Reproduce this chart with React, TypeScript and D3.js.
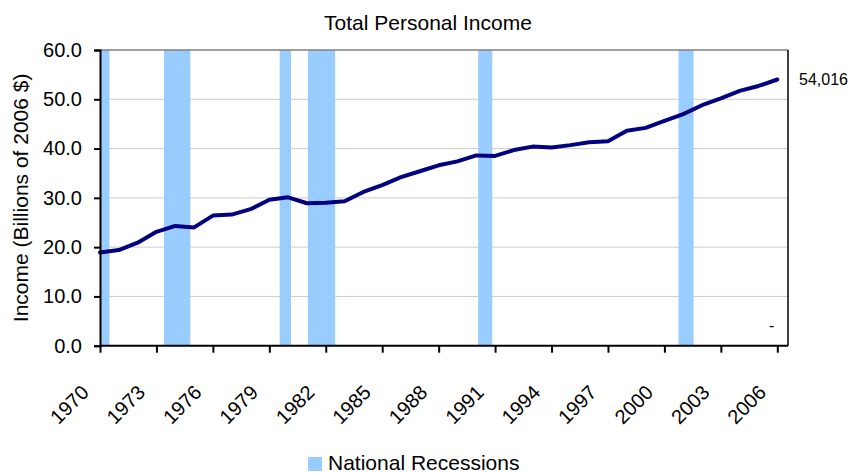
import React, { useEffect, useRef } from 'react';
import * as d3 from 'd3';

// total personal income, billions of 2006 $
const years = [
  1970, 1971, 1972, 1973, 1974, 1975, 1976, 1977, 1978, 1979,
  1980, 1981, 1982, 1983, 1984, 1985, 1986, 1987, 1988, 1989,
  1990, 1991, 1992, 1993, 1994, 1995, 1996, 1997, 1998, 1999,
  2000, 2001, 2002, 2003, 2004, 2005, 2006,
];
const income = [
  18.9, 19.4, 20.9, 23.1, 24.3, 24.0, 26.4, 26.6, 27.7, 29.6,
  30.1, 28.9, 29.0, 29.3, 31.2, 32.6, 34.2, 35.4, 36.6, 37.4,
  38.6, 38.5, 39.7, 40.4, 40.2, 40.7, 41.3, 41.5, 43.6, 44.2,
  45.6, 47.0, 48.8, 50.2, 51.7, 52.7, 54.016,
];

// recession shading (start / end, in years as drawn)
const recessionStart = [1970, 1973.4, 1979.55, 1981.05, 1990.1, 2000.75];
const recessionEnd = [1970.5, 1974.8, 1980.15, 1982.5, 1990.85, 2001.55];

const yTicks = [0, 10, 20, 30, 40, 50, 60];
const xTickYears = [1970, 1973, 1976, 1979, 1982, 1985, 1988, 1991, 1994, 1997, 2000, 2003, 2006];

const chartTitle = 'Total Personal Income';
const yTitle = 'Income (Billions of 2006 $)';
const legendLabel = 'National Recessions';
const endLabel = '54,016';

export default function App() {
  const svgRef = useRef<SVGSVGElement>(null);

  useEffect(() => {
    const width = 858;
    const height = 473;
    const left = 100;
    const right = 788;
    const top = 50;
    const bottom = 345.7;
    const font = 'Arial, "Liberation Sans", sans-serif';

    const svg = d3.select(svgRef.current)
      .attr('width', width)
      .attr('height', height);
    svg.selectAll('*').remove();

    const xScale = d3.scaleLinear().domain([1970, 2006]).range([left, 777.3]);
    const yScale = d3.scaleLinear().domain([0, 60]).range([bottom, top]);

    // gridlines
    svg.append('g')
      .selectAll('line')
      .data(yTicks.filter((t) => t > 0 && t < 60))
      .enter().append('line')
      .attr('x1', left).attr('x2', right)
      .attr('y1', (d) => yScale(d)).attr('y2', (d) => yScale(d))
      .attr('stroke', '#cccccc')
      .attr('stroke-width', 1);

    // recession bars
    svg.append('g')
      .selectAll('rect')
      .data(recessionStart.map((s, i) => ({ s, e: recessionEnd[i] })))
      .enter().append('rect')
      .attr('x', (d) => xScale(d.s))
      .attr('width', (d) => xScale(d.e) - xScale(d.s))
      .attr('y', yScale(60))
      .attr('height', yScale(0) - yScale(60))
      .attr('fill', '#99ccff');

    // plot area border
    svg.append('line')
      .attr('x1', left).attr('x2', right)
      .attr('y1', top).attr('y2', top)
      .attr('stroke', '#808080').attr('stroke-width', 1.5);
    svg.append('line')
      .attr('x1', right).attr('x2', right)
      .attr('y1', top).attr('y2', bottom)
      .attr('stroke', '#000').attr('stroke-width', 1.5);

    // income line
    const line = d3.line<number>()
      .x((d, i) => xScale(years[i]))
      .y((d) => yScale(d));
    svg.append('path')
      .datum(income)
      .attr('d', line)
      .attr('fill', 'none')
      .attr('stroke', '#000080')
      .attr('stroke-width', 4)
      .attr('stroke-linejoin', 'round')
      .attr('stroke-linecap', 'round');

    // y axis
    const yAxis = svg.append('g')
      .attr('transform', `translate(${left},0)`)
      .call(d3.axisLeft(yScale).tickValues(yTicks).tickSize(6).tickPadding(12)
        .tickFormat((d) => (d as number).toFixed(1)));
    yAxis.select('.domain').attr('stroke', '#000').attr('stroke-width', 2);
    yAxis.selectAll('.tick line').attr('stroke', '#000').attr('stroke-width', 2);
    yAxis.selectAll('.tick text')
      .attr('font-family', font)
      .attr('font-size', 20)
      .attr('fill', '#000');

    // x axis
    const xAxis = svg.append('g')
      .attr('transform', `translate(0,${bottom})`)
      .call(d3.axisBottom(xScale).tickValues(xTickYears).tickSize(7).tickFormat(() => ''));
    xAxis.select('.domain').attr('d', `M${left},0H${right}`).attr('stroke', '#000').attr('stroke-width', 2);
    xAxis.selectAll('.tick line').attr('stroke', '#000').attr('stroke-width', 2);

    svg.append('g')
      .selectAll('text')
      .data(xTickYears)
      .enter().append('text')
      .attr('transform', (d) => `translate(${xScale(d) - 10},${bottom + 48}) rotate(-45)`)
      .attr('text-anchor', 'end')
      .attr('font-family', font)
      .attr('font-size', 20)
      .attr('fill', '#000')
      .text((d) => String(d));

    // titles
    svg.append('text')
      .attr('x', 428).attr('y', 30)
      .attr('text-anchor', 'middle')
      .attr('font-family', font).attr('font-size', 21)
      .text(chartTitle);

    svg.append('text')
      .attr('transform', `translate(28,${(top + bottom) / 2}) rotate(-90)`)
      .attr('text-anchor', 'middle')
      .attr('font-family', font).attr('font-size', 21)
      .text(yTitle);

    // end value label
    svg.append('text')
      .attr('x', 799).attr('y', 85)
      .attr('font-family', font).attr('font-size', 16)
      .text(endLabel);

    svg.append('text')
      .attr('x', 769).attr('y', 331)
      .attr('font-family', font).attr('font-size', 16)
      .text('-');

    // legend
    svg.append('rect')
      .attr('x', 308).attr('y', 457)
      .attr('width', 14).attr('height', 14)
      .attr('fill', '#99ccff');
    svg.append('text')
      .attr('x', 328).attr('y', 470)
      .attr('font-family', font).attr('font-size', 21)
      .text(legendLabel);
  }, []);

  return (
    <svg ref={svgRef} style={{ position: 'absolute', left: 0, top: 0, background: '#fff' }}></svg>
  );
}
